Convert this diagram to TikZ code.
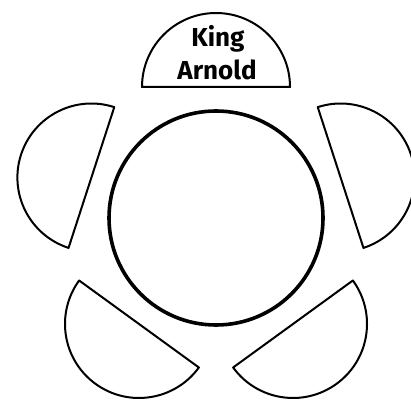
\documentclass[tikz,border=0pt]{standalone}
\usepackage{fontspec}
\setmainfont{Fira Sans}
\begin{document}
\begin{tikzpicture}[x=1pt,y=1pt,
  seat/.style={draw, line width=2pt, line join=round},
  tablestyle/.style={circle, draw, line width=3.6pt, minimum size=214pt, inner sep=0pt},
  label/.style={anchor=base, inner sep=0pt, font=\fontsize{26}{26}\selectfont\bfseries}]
\useasboundingbox (0,0) rectangle (411,399);
\coordinate (C) at (216,181);
\node[tablestyle] (tbl) at (C) {};
\foreach \a in {0,72,144,216,288} {
  \draw[seat, rotate around={\a:(C)}] (142,312) arc (180:0:74) -- cycle;
}
\node[label] (king) at (218,352) {King};
\node[label] (arnold) at (217,319) {Arnold};
\end{tikzpicture}
\end{document}
